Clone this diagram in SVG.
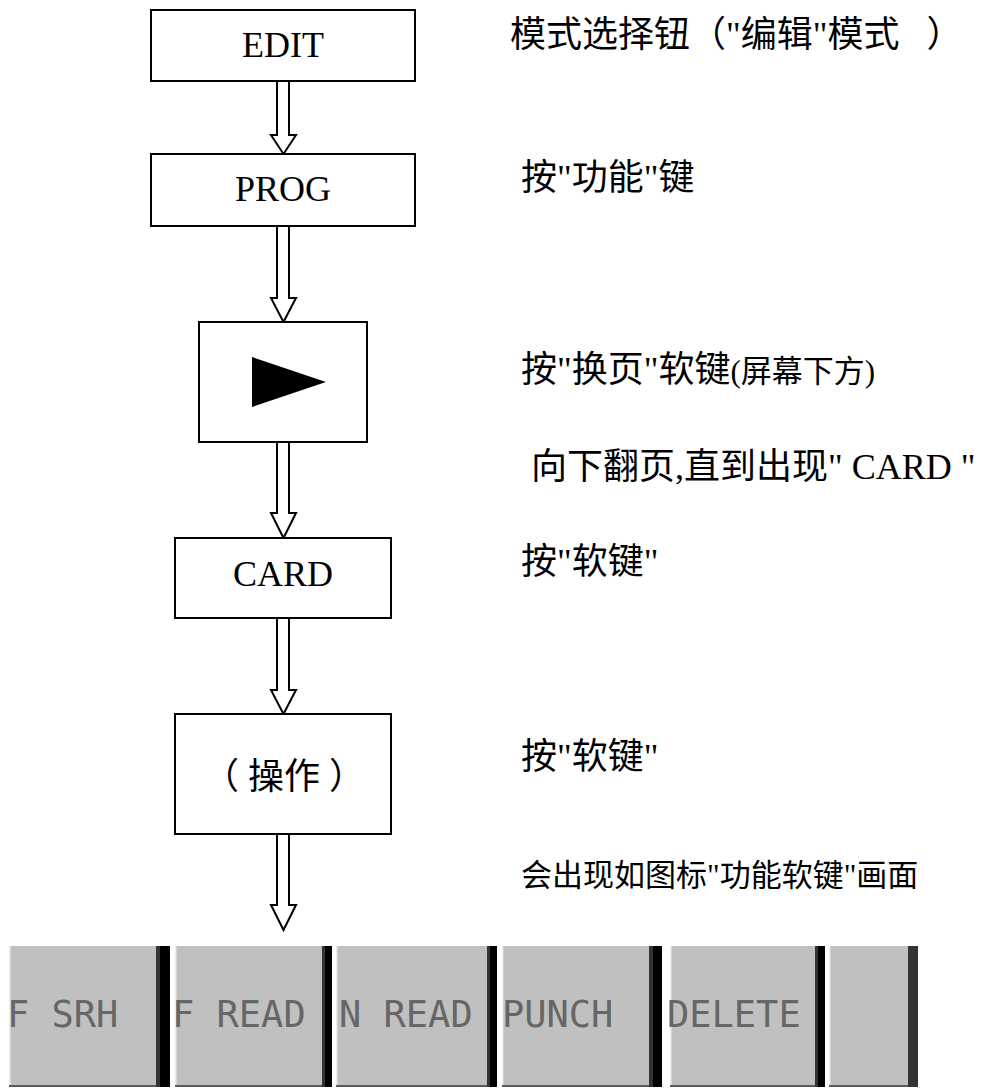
<svg xmlns="http://www.w3.org/2000/svg" width="991" height="1088" viewBox="0 0 991 1088">
<style>
.box{fill:#fff;stroke:#000;stroke-width:2}
.lbl{font-family:'Liberation Serif','Noto Sans CJK SC',serif;font-size:36px;fill:#000;text-anchor:middle}
.note{font-family:'Liberation Serif','Noto Sans CJK SC',serif;font-size:36px;fill:#000}
.sm{font-size:31px}
.arr{fill:#fff;stroke:#000;stroke-width:2;stroke-linejoin:miter}
.key{fill:#c0c0c0}
.hl{fill:#ececec}
.bl{fill:#5a5a5a}
.ds{fill:#343434}
.dk{fill:#000}
.ktxt{font-family:'DejaVu Sans Mono',monospace;font-size:37px;fill:#666}
</style>
<rect width="991" height="1088" fill="#fff"/>

<g id="connectors">
<polygon class="arr" points="277,81 277,135 271,135 283.5,154 296,135 289,135 289,81"/>
<polygon class="arr" points="277,226 277,298 271,298 283.5,322 296,298 289,298 289,226"/>
<polygon class="arr" points="277,442 277,513 271,513 283.5,538 296,513 289,513 289,442"/>
<polygon class="arr" points="277,618 277,690 271,690 283.5,714 296,690 289,690 289,618"/>
<polygon class="arr" points="277,834 277,905 271,905 283.5,930 296,905 289,905 289,834"/>
</g>

<g id="node-edit">
<rect class="box" x="151" y="10" width="264" height="71"/>
<text class="lbl" x="283" y="57">EDIT</text>
</g>
<g id="node-prog">
<rect class="box" x="151" y="154" width="264" height="72"/>
<text class="lbl" x="283" y="201">PROG</text>
</g>
<g id="node-next">
<rect class="box" x="199" y="322" width="168" height="120"/>
<polygon points="252,357 326,382 252,407" fill="#000"/>
</g>
<g id="node-card">
<rect class="box" x="175" y="538" width="216" height="80"/>
<text class="lbl" x="283" y="586">CARD</text>
</g>
<g id="node-oper">
<rect class="box" x="175" y="714" width="216" height="120"/>
<text class="lbl" x="284" y="789" xml:space="preserve">（ 操作 ）</text>
</g>

<g id="notes">
<text class="note" x="510" y="47" xml:space="preserve">模式选择钮（"编辑"模式   ）</text>
<text class="note" x="521" y="190">按"功能"键</text>
<text class="note" x="521" y="382">按"换页"软键<tspan class="sm">(屏幕下方)</tspan></text>
<text class="note" x="531" y="479">向下翻页,直到出现" CARD "</text>
<text class="note" x="521" y="574">按"软键"</text>
<text class="note" x="521" y="769">按"软键"</text>
<text class="note sm" x="521" y="886">会出现如图标"功能软键"画面</text>
</g>

<g id="softkeys">
<g id="key1">
<rect class="key" x="9" y="946" width="147" height="141"/>
<rect class="hl" x="9" y="946" width="1.5" height="141"/>
<rect class="bl" x="9" y="1085" width="147" height="2"/>
<rect class="ds" x="156" y="946" width="4" height="141"/>
<rect class="dk" x="160" y="946" width="10" height="141"/>
<text class="ktxt" x="7" y="1027" xml:space="preserve">F SRH</text>
</g>
<g id="key2">
<rect class="key" x="175" y="946" width="147" height="141"/>
<rect class="hl" x="175" y="946" width="1.5" height="141"/>
<rect class="bl" x="175" y="1085" width="147" height="2"/>
<rect class="ds" x="322" y="946" width="3" height="141"/>
<rect class="dk" x="325" y="946" width="7" height="141"/>
<text class="ktxt" x="172" y="1027" xml:space="preserve">F READ</text>
</g>
<g id="key3">
<rect class="key" x="336" y="946" width="151" height="141"/>
<rect class="hl" x="336" y="946" width="1.5" height="141"/>
<rect class="bl" x="336" y="1085" width="151" height="2"/>
<rect class="ds" x="487" y="946" width="3" height="141"/>
<rect class="dk" x="490" y="946" width="7" height="141"/>
<text class="ktxt" x="339" y="1027" xml:space="preserve">N READ</text>
</g>
<g id="key4">
<rect class="key" x="502" y="946" width="147" height="141"/>
<rect class="hl" x="502" y="946" width="1.5" height="141"/>
<rect class="bl" x="502" y="1085" width="147" height="2"/>
<rect class="ds" x="649" y="946" width="4" height="141"/>
<rect class="dk" x="653" y="946" width="9" height="141"/>
<text class="ktxt" x="502" y="1027">PUNCH</text>
</g>
<g id="key5">
<rect class="key" x="670" y="946" width="145" height="141"/>
<rect class="hl" x="670" y="946" width="1.5" height="141"/>
<rect class="bl" x="670" y="1085" width="145" height="2"/>
<rect class="ds" x="815" y="946" width="3" height="141"/>
<rect class="dk" x="818" y="946" width="7" height="141"/>
<text class="ktxt" x="667" y="1027">DELETE</text>
</g>
<g id="key6">
<rect class="key" x="829" y="946" width="79" height="141"/>
<rect class="hl" x="829" y="946" width="1.5" height="141"/>
<rect class="bl" x="829" y="1085" width="79" height="2"/>
<rect class="ds" x="908" y="946" width="10" height="141"/>
</g>
</g>
</svg>
